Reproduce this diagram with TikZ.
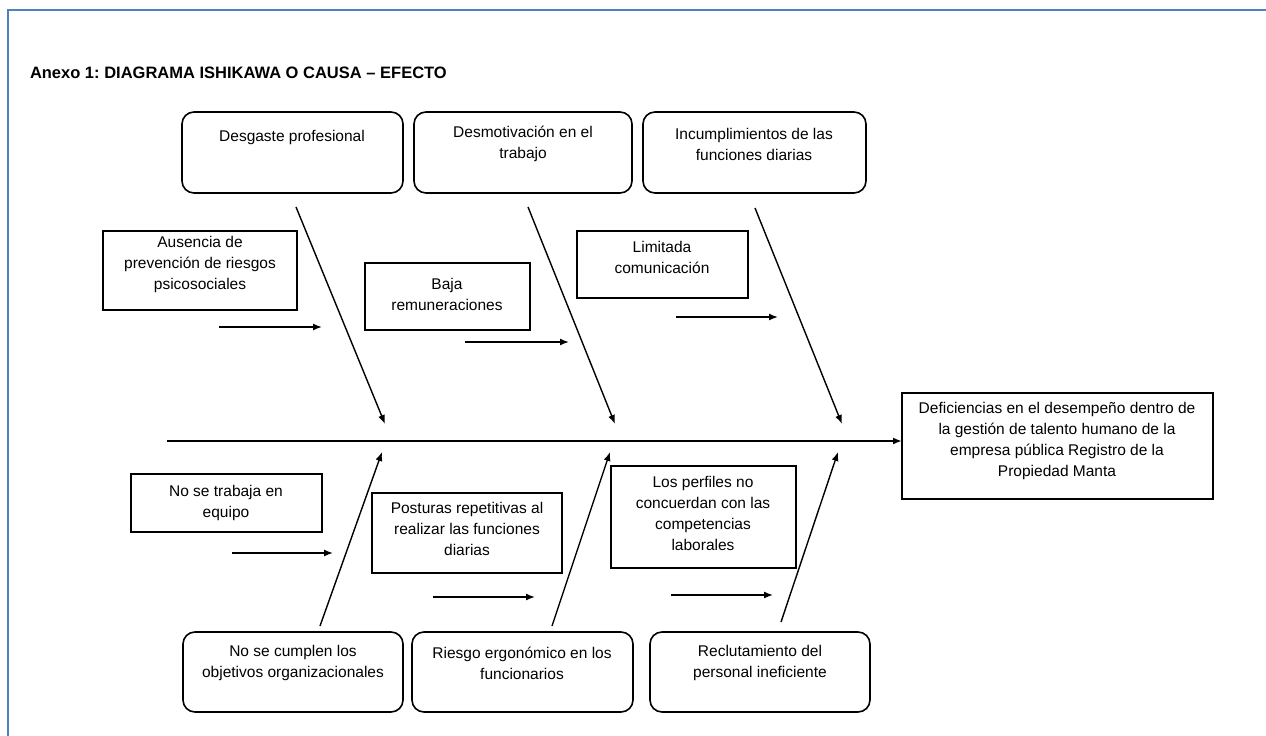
\documentclass[tikz,border=0pt]{standalone}
\usepackage{fontspec}
\setmainfont{Liberation Sans}
\usetikzlibrary{arrows.meta}
\definecolor{frameblue}{RGB}{79,129,189}
\frenchspacing
\begin{document}
\begin{tikzpicture}[x=1pt,y=-1pt,
  every node/.style={inner sep=0pt, outer sep=0pt},
  txt/.style={align=center, font=\fontsize{15.5}{21}\selectfont},
  rbox/.style={draw, line width=1.6pt, rounded corners=12pt, anchor=north west},
  sbox/.style={draw, line width=1.6pt, anchor=north west},
  bone/.style={line width=1.4pt, -{Latex[length=9pt,width=7pt]}},
  spine/.style={line width=2pt, -{Latex[length=9pt,width=7pt]}},
  frame/.style={draw=frameblue, line width=2.5pt}]
\useasboundingbox (0,0) rectangle (1266,736);
% frame
\coordinate (fr1) at (1266,10);
\coordinate (fr2) at (8,10);
\coordinate (fr3) at (8,736);
\draw[frame] (fr1) -- (fr2) -- (fr3);
% title
\node[anchor=base west, font=\fontsize{16.5}{20}\selectfont\bfseries] (title) at (30,78) {Anexo 1: DIAGRAMA ISHIKAWA O CAUSA – EFECTO};

% top rounded boxes
\node[rbox, minimum width=221pt, minimum height=81pt] (tb1) at (182,112) {};
\node[rbox, minimum width=218pt, minimum height=81pt] (tb2) at (414,112) {};
\node[rbox, minimum width=223pt, minimum height=81pt] (tb3) at (643,112) {};
\node[txt] (tb1t) at (292,137) {Desgaste profesional};
\node[txt] (tb2t) at (523,144) {Desmotivación en el\\trabajo};
\node[txt] (tb3t) at (754,144) {Incumplimientos de las\\funciones diarias};

% top cause rectangles
\node[sbox, minimum width=194pt, minimum height=79pt] (c1) at (103,231) {};
\node[sbox, minimum width=165pt, minimum height=67pt] (c2) at (365,263) {};
\node[sbox, minimum width=171pt, minimum height=67pt] (c3) at (577,231) {};
\node[txt] (c1t) at (200,264) {Ausencia de\\prevención de riesgos\\psicosociales};
\node[txt] (c2t) at (447,294) {Baja\\remuneraciones};
\node[txt] (c3t) at (662,257) {Limitada\\comunicación};

% effect box
\node[sbox, minimum width=311pt, minimum height=106pt] (eff) at (902,393) {};
\node[txt] (efft) at (1057,441) {Deficiencias en el desempeño dentro de\\la gestión de talento humano de la\\empresa pública Registro de la\\Propiedad Manta};

% bottom cause rectangles
\node[sbox, minimum width=191pt, minimum height=58pt] (d1) at (131,474) {};
\node[sbox, minimum width=190pt, minimum height=80pt] (d2) at (372,493) {};
\node[sbox, minimum width=185pt, minimum height=102pt] (d3) at (611,466) {};
\node[txt] (d1t) at (226,503) {No se trabaja en\\equipo};
\node[txt] (d2t) at (467,529) {Posturas repetitivas al\\realizar las funciones\\diarias};
\node[txt] (d3t) at (703,513) {Los perfiles no\\concuerdan con las\\competencias\\laborales};

% bottom rounded boxes
\node[rbox, minimum width=220pt, minimum height=80pt] (bb1) at (183,632) {};
\node[rbox, minimum width=221pt, minimum height=80pt] (bb2) at (412,632) {};
\node[rbox, minimum width=220pt, minimum height=80pt] (bb3) at (650,632) {};
\node[txt] (bb1t) at (293,663) {No se cumplen los\\objetivos organizacionales};
\node[txt] (bb2t) at (522,663) {Riesgo ergonómico en los\\funcionarios};
\node[txt] (bb3t) at (760,663) {Reclutamiento del\\personal ineficiente};

% spine
\coordinate (sp) at (167,441);
\draw[spine] (sp) -- (sp -| eff.west);

% top bones
\coordinate (u1a) at (296,207); \coordinate (u1b) at (385,424);
\coordinate (u2a) at (528,207); \coordinate (u2b) at (615,424);
\coordinate (u3a) at (755,208); \coordinate (u3b) at (842,424);
\draw[bone] (u1a) -- (u1b);
\draw[bone] (u2a) -- (u2b);
\draw[bone] (u3a) -- (u3b);

% bottom bones
\coordinate (l1a) at (320,626); \coordinate (l1b) at (382,452);
\coordinate (l2a) at (552,626); \coordinate (l2b) at (610,452);
\coordinate (l3a) at (781,622); \coordinate (l3b) at (838,452);
\draw[bone] (l1a) -- (l1b);
\draw[bone] (l2a) -- (l2b);
\draw[bone] (l3a) -- (l3b);

% small arrows
\coordinate (s1a) at (219,327); \coordinate (s1b) at (322,327);
\coordinate (s2a) at (465,342); \coordinate (s2b) at (569,342);
\coordinate (s3a) at (676,317); \coordinate (s3b) at (778,317);
\coordinate (s4a) at (232,553); \coordinate (s4b) at (333,553);
\coordinate (s5a) at (433,597); \coordinate (s5b) at (535,597);
\coordinate (s6a) at (671,595); \coordinate (s6b) at (773,595);
\foreach \i in {1,...,6}{\draw[bone] (s\i a) -- (s\i b);}
\end{tikzpicture}
\end{document}
